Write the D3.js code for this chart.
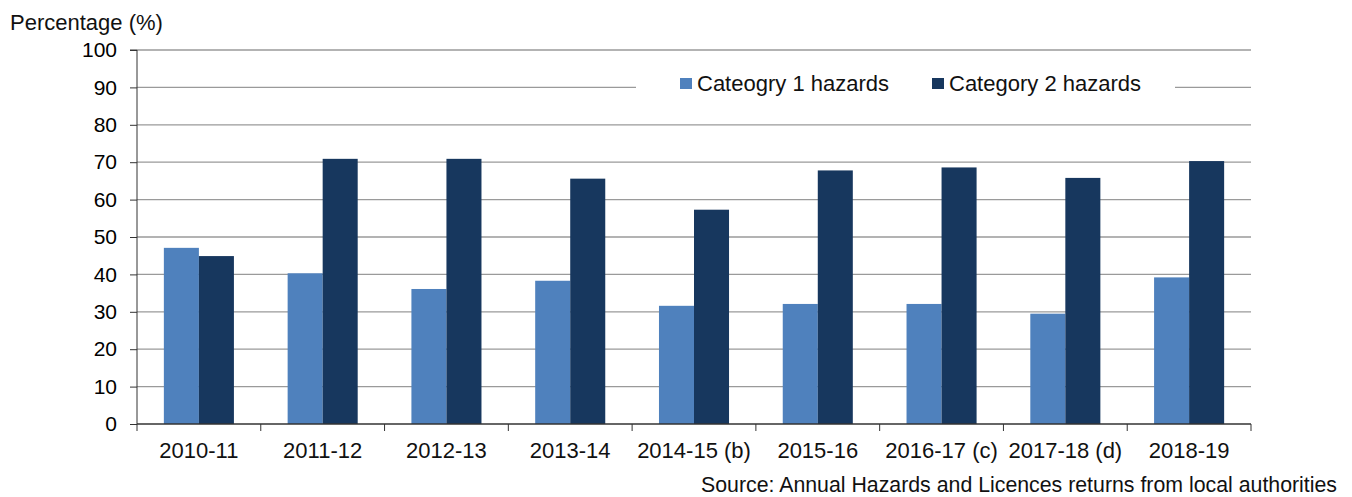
<!DOCTYPE html>
<html>
<head>
<meta charset="utf-8">
<script src="https://cdn.jsdelivr.net/npm/d3@7"></script>
<style>
  body { margin: 0; background: #fff; }
  svg { display: block; font-family: "Liberation Sans", Arial, sans-serif; }
</style>
</head>
<body>
<div id="chart"></div>
<script>
const width = 1352
const height = 497
const margin = { top: 50, right: 101, bottom: 73, left: 137 }

// datos
const years = ['2010-11', '2011-12', '2012-13', '2013-14', '2014-15 (b)', '2015-16', '2016-17 (c)', '2017-18 (d)', '2018-19']
const cat1 = [47.1, 40.3, 36.1, 38.3, 31.6, 32.1, 32.1, 29.5, 39.2]
const cat2 = [44.9, 70.9, 70.9, 65.6, 57.3, 67.8, 68.6, 65.8, 70.3]
const seriesNames = ['Cateogry 1 hazards', 'Category 2 hazards']
const colors = ['#4f81bd', '#17375e']
const yTicks = [0, 10, 20, 30, 40, 50, 60, 70, 80, 90, 100]

const innerW = width - margin.left - margin.right
const innerH = height - margin.top - margin.bottom

const svg = d3.select('#chart').append('svg').attr('width', width).attr('height', height)
const g = svg.append('g').attr('transform', `translate(${margin.left}, ${margin.top})`)

const x = d3.scaleBand().domain(years).range([0, innerW]).paddingInner(0.434).paddingOuter(0.217)
const xs = d3.scaleBand().domain([0, 1]).range([0, x.bandwidth()])
const y = d3.scaleLinear().domain([0, 100]).range([innerH, 0])

// rejilla
g.append('g').selectAll('line').data(yTicks.filter(d => d > 0)).join('line')
    .attr('x1', 0).attr('x2', innerW)
    .attr('y1', d => y(d)).attr('y2', d => y(d))
    .attr('stroke', '#9a9a9a').attr('stroke-width', 1.3)

// barras
const groups = g.append('g').selectAll('g').data(years).join('g')
    .attr('transform', d => `translate(${x(d)},0)`)
groups.selectAll('rect')
    .data((d, i) => [cat1[i], cat2[i]].map((v, k) => ({ v, k })))
    .join('rect')
    .attr('x', d => xs(d.k))
    .attr('width', xs.bandwidth())
    .attr('y', d => y(d.v))
    .attr('height', d => innerH - y(d.v))
    .attr('fill', d => colors[d.k])

// ejes
const yAxis = d3.axisLeft(y).tickValues(yTicks).tickSize(7).tickPadding(13)
const yAxisGroup = g.append('g').call(yAxis)
yAxisGroup.select('.domain').attr('stroke', '#333').attr('d', `M-7,0H0V${innerH}`)
yAxisGroup.selectAll('.tick line').attr('stroke', '#333')
yAxisGroup.selectAll('text').attr('font-size', 21).attr('fill', '#000').attr('font-family', 'Liberation Sans, Arial, sans-serif')

const xBound = d3.scaleLinear().domain([0, years.length]).range([0, innerW])
const xAxisGroup = g.append('g').attr('transform', `translate(0, ${innerH})`)
xAxisGroup.append('line').attr('x1', 0).attr('x2', innerW).attr('stroke', '#333').attr('stroke-width', 1.3)
xAxisGroup.selectAll('line.tk').data(d3.range(years.length + 1)).join('line').attr('class', 'tk')
    .attr('x1', d => xBound(d)).attr('x2', d => xBound(d))
    .attr('y1', 0).attr('y2', 7).attr('stroke', '#333')
xAxisGroup.selectAll('text').data(years).join('text')
    .attr('x', d => x(d) + x.bandwidth() / 2)
    .attr('y', 34)
    .attr('text-anchor', 'middle')
    .attr('font-size', 22)
    .attr('fill', '#111')
    .text(d => d)

// leyenda
const legend = svg.append('g')
legend.append('rect').attr('x', 636).attr('y', 64).attr('width', 539).attr('height', 44).attr('fill', '#fff')
const legendX = [680, 932]
seriesNames.forEach((name, i) => {
    legend.append('rect').attr('x', legendX[i]).attr('y', 78).attr('width', 12).attr('height', 11).attr('fill', colors[i])
    legend.append('text').attr('x', legendX[i] + 17).attr('y', 91).attr('font-size', 22).attr('fill', '#111')
        .text(name)
})

// textos
svg.append('text').attr('x', 10).attr('y', 30).attr('font-size', 22).attr('fill', '#111').text('Percentage (%)')
svg.append('text').attr('x', 701).attr('y', 492).attr('font-size', 21.4).attr('fill', '#111')
    .attr('textLength', 636).attr('lengthAdjust', 'spacingAndGlyphs')
    .text('Source: Annual Hazards and Licences returns from local authorities')
</script>
</body>
</html>
